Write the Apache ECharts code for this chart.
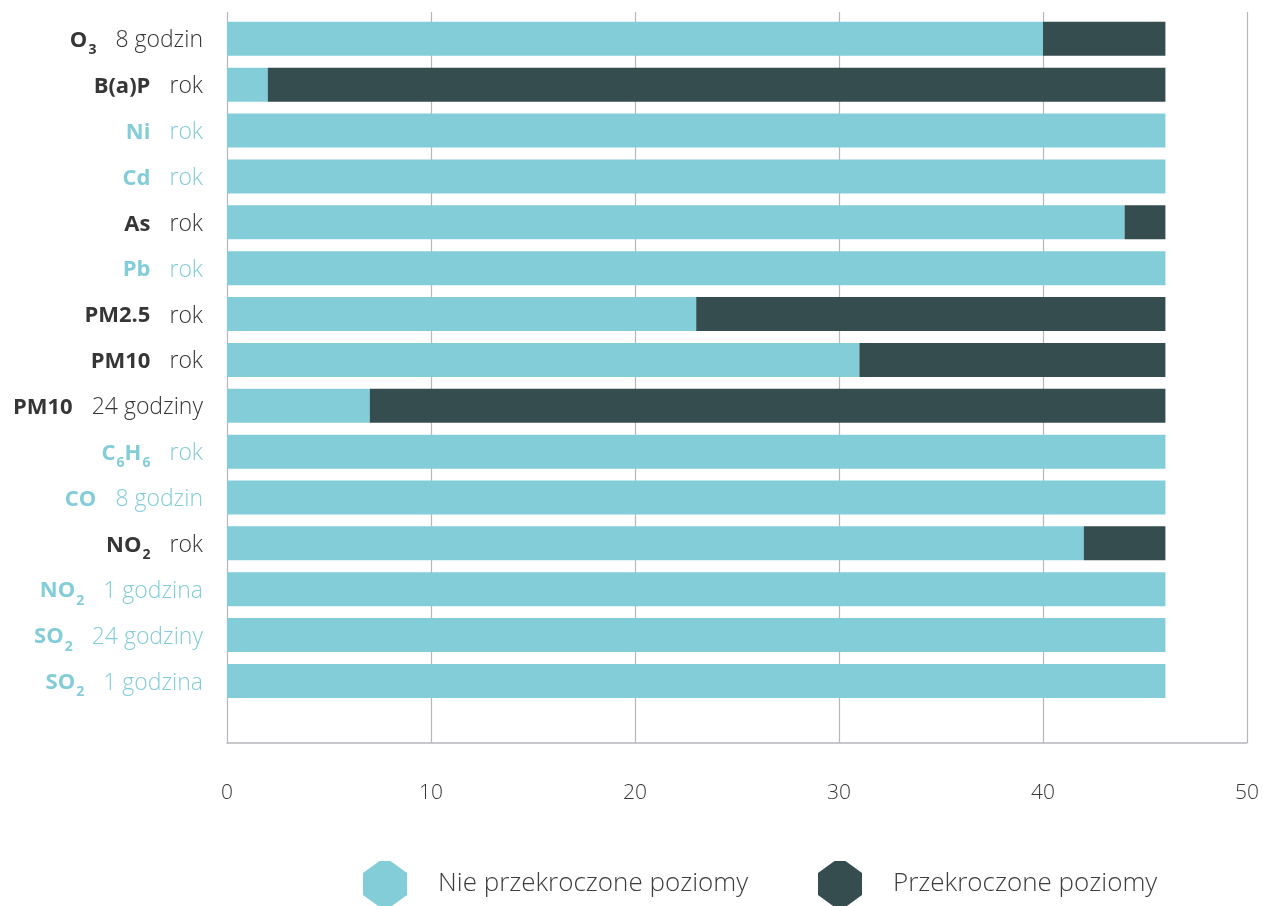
<!DOCTYPE html>
<html>
<head>
<meta charset="utf-8">
<script src="https://cdn.jsdelivr.net/npm/echarts@6/dist/echarts.min.js"></script>
<style>
html,body{margin:0;padding:0;background:#fff;}
#chart{width:1263px;height:906px;}
</style>
</head>
<body>
<div id="chart"></div>
<script>
// ---- data ----
const pollutants = ['O_3','B(a)P','Ni','Cd','As','Pb','PM2.5','PM10','PM10','C_6H_6','CO','NO_2','NO_2','SO_2','SO_2'];
const periods = ['8 godzin','rok','rok','rok','rok','rok','rok','rok','24 godziny','rok','8 godzin','rok','1 godzina','24 godziny','1 godzina'];
const notExceeded = [40, 2, 46, 46, 44, 46, 23, 31, 7, 46, 46, 42, 46, 46, 46];
const exceeded = [6, 44, 0, 0, 2, 0, 23, 15, 39, 0, 0, 4, 0, 0, 0];
const seriesNames = ['Nie przekroczone poziomy', 'Przekroczone poziomy'];
const xMin = 0, xMax = 50, xStep = 10;

// ---- styles ----
const LIGHT = '#83cdd9';
const DARK = '#354d4e';
const TEXT_DARK = '#363636';
const GRID_LINE = '#b4b7bc';
const FONT = "'Open Sans', 'Noto Sans', sans-serif";

const categories = pollutants.map((p, i) => p + '|' + periods[i]);

function labelFormatter(value, index) {
  const parts = value.split('|');
  const s = exceeded[index] > 0 ? 'd' : 'l';
  const name = parts[0];
  let out = '';
  const re = /_(\d)/g;
  let last = 0, m;
  while ((m = re.exec(name)) !== null) {
    if (m.index > last) out += '{b' + s + '|' + name.slice(last, m.index) + '}';
    out += '{s' + s + '|' + m[1] + '}';
    last = m.index + m[0].length;
  }
  if (last < name.length) out += '{b' + s + '|' + name.slice(last) + '}';
  out += '{n' + s + '|' + parts[1] + '}';
  return out;
}

function rich() {
  const r = {};
  [['d', TEXT_DARK], ['l', LIGHT]].forEach(([k, c]) => {
    r['b' + k] = { color: c, fontFamily: FONT, fontWeight: 700, fontSize: 22, lineHeight: 26, padding: [4, 0, 0, 0] };
    r['s' + k] = { color: c, fontFamily: FONT, fontWeight: 700, fontSize: 14, padding: [23, 0, 0, 1], lineHeight: 14 };
    r['n' + k] = { color: c, fontFamily: FONT, fontWeight: 300, fontSize: 23, padding: [4, 0, 0, 19], lineHeight: 26 };
  });
  return r;
}

const chart = echarts.init(document.getElementById('chart'), null, { renderer: 'canvas' });
const legendIcon = 'path://M16.5,0 L27.5,0 L44,12 L44,34 L27.5,46 L16.5,46 L0,34 L0,12 Z';
const legendText = { color: '#3c3c3c', fontFamily: FONT, fontWeight: 300, fontSize: 26, padding: [3, 0, 0, 26] };

chart.setOption({
  animation: false,
  backgroundColor: '#fff',
  grid: [
    { left: 227, right: 16, top: 12, bottom: 163, containLabel: false },
    { left: 227, right: 16, top: 15.9, height: 688, containLabel: false }
  ],
  legend: [
    {
      data: [{ name: seriesNames[0], icon: legendIcon }],
      left: 363, top: 861, padding: 0, itemWidth: 44, itemHeight: 46,
      textStyle: legendText
    },
    {
      data: [{ name: seriesNames[1], icon: legendIcon }],
      left: 818, top: 861, padding: 0, itemWidth: 44, itemHeight: 46,
      textStyle: legendText
    }
  ],
  xAxis: [
    {
      gridIndex: 0, type: 'value', min: xMin, max: xMax, interval: xStep,
      axisLine: { show: true, lineStyle: { color: GRID_LINE, width: 1.5 } },
      axisTick: { show: false },
      splitLine: { show: true, lineStyle: { color: GRID_LINE, width: 1.2 } },
      axisLabel: { color: TEXT_DARK, fontFamily: FONT, fontWeight: 300, fontSize: 21, margin: 40 }
    },
    {
      gridIndex: 1, type: 'value', min: xMin, max: xMax, interval: xStep,
      show: false, splitLine: { show: false }
    }
  ],
  yAxis: [
    { gridIndex: 0, type: 'value', min: 0, max: 1, show: false, splitLine: { show: false } },
    {
      gridIndex: 1, type: 'category', data: categories, inverse: true,
      axisLine: { show: false }, axisTick: { show: false },
      axisLabel: { margin: 24, formatter: labelFormatter, rich: rich() }
    }
  ],
  series: [
    {
      name: seriesNames[0], type: 'bar', stack: 'total', xAxisIndex: 1, yAxisIndex: 1,
      data: notExceeded, barWidth: 34, itemStyle: { color: LIGHT }
    },
    {
      name: seriesNames[1], type: 'bar', stack: 'total', xAxisIndex: 1, yAxisIndex: 1,
      data: exceeded, barWidth: 34, itemStyle: { color: DARK }
    }
  ]
});
</script>
</body>
</html>
